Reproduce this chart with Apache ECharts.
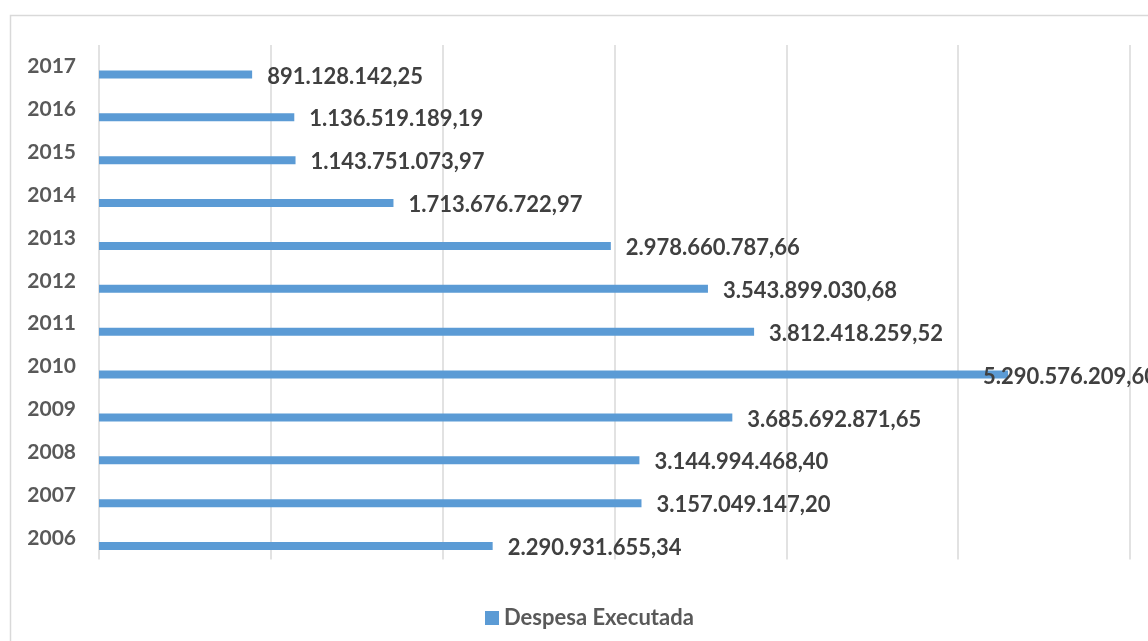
<!DOCTYPE html>
<html>
<head>
<meta charset="utf-8">
<script src="https://cdn.jsdelivr.net/npm/echarts@6/dist/echarts.min.js"></script>
<style>
  html, body { margin: 0; padding: 0; background: #fff; }
  #chart { width: 1148px; height: 641px; }
</style>
</head>
<body>
<div id="chart"></div>
<script>
// Despesa executada por ano (R$)
const years = ['2006', '2007', '2008', '2009', '2010', '2011', '2012', '2013', '2014', '2015', '2016', '2017'];
const despesa = [
  2290931655.34, 3157049147.20, 3144994468.40, 3685692871.65, 5290576209.60, 3812418259.52,
  3543899030.68, 2978660787.66, 1713676722.97, 1143751073.97, 1136519189.19, 891128142.25
];
const seriesName = 'Despesa Executada';

// Brazilian number format: 1.234.567,89
function formatBR(v) {
  const parts = v.toFixed(2).split('.');
  const intPart = parts[0].replace(/\B(?=(\d{3})+(?!\d))/g, '.');
  return intPart + ',' + parts[1];
}

const fontFamily = 'Lato, "Open Sans", sans-serif';

// The largest bar's label is pulled back so it stays inside the chart area
const barData = despesa.map(function (v) {
  const item = { value: v };
  if (v === Math.max.apply(null, despesa)) {
    item.label = { offset: [-40, 2] };
  }
  return item;
});

const chart = echarts.init(document.getElementById('chart'), null, { renderer: 'canvas' });
chart.setOption({
  animation: false,
  backgroundColor: '#ffffff',
  graphic: [{
    type: 'rect',
    shape: { x: 10.5, y: 15.5, width: 1300, height: 800 },
    style: { fill: 'none', stroke: '#d9d9d9', lineWidth: 1.5 },
    z: -10
  }],
  grid: { left: 99, right: 18, top: 45, bottom: 81.5, containLabel: false },
  legend: {
    data: [seriesName],
    left: 480,
    top: 602,
    itemWidth: 14,
    itemHeight: 14,
    icon: 'rect',
    textStyle: { color: '#595959', fontSize: 22, fontWeight: 'bold', fontFamily: fontFamily }
  },
  xAxis: {
    type: 'value',
    min: 0,
    max: 6000000000,
    interval: 1000000000,
    axisLine: { show: false },
    axisTick: { show: false },
    axisLabel: { show: false },
    splitLine: { show: true, lineStyle: { color: '#d9d9d9', width: 1.5 } }
  },
  yAxis: {
    type: 'category',
    data: years,
    axisLine: { show: false },
    axisTick: { show: false },
    splitLine: { show: false },
    axisLabel: {
      margin: 23,
      color: '#595959',
      fontSize: 21,
      fontWeight: 'bold',
      fontFamily: fontFamily
    }
  },
  series: [
    {
      // empty companion series reserving the upper slot of each category
      name: 'reserva',
      type: 'bar',
      data: [],
      barWidth: 8,
      barGap: '100%'
    },
    {
      name: seriesName,
      type: 'bar',
      data: barData,
      barWidth: 8,
      barGap: '100%',
      itemStyle: { color: '#5b9bd5' },
      label: {
        show: true,
        position: 'right',
        distance: 15,
        offset: [0, 2],
        color: '#404040',
        fontSize: 22,
        fontWeight: 'bold',
        fontFamily: fontFamily,
        formatter: function (p) { return formatBR(p.value); }
      }
    }
  ]
});
</script>
</body>
</html>
